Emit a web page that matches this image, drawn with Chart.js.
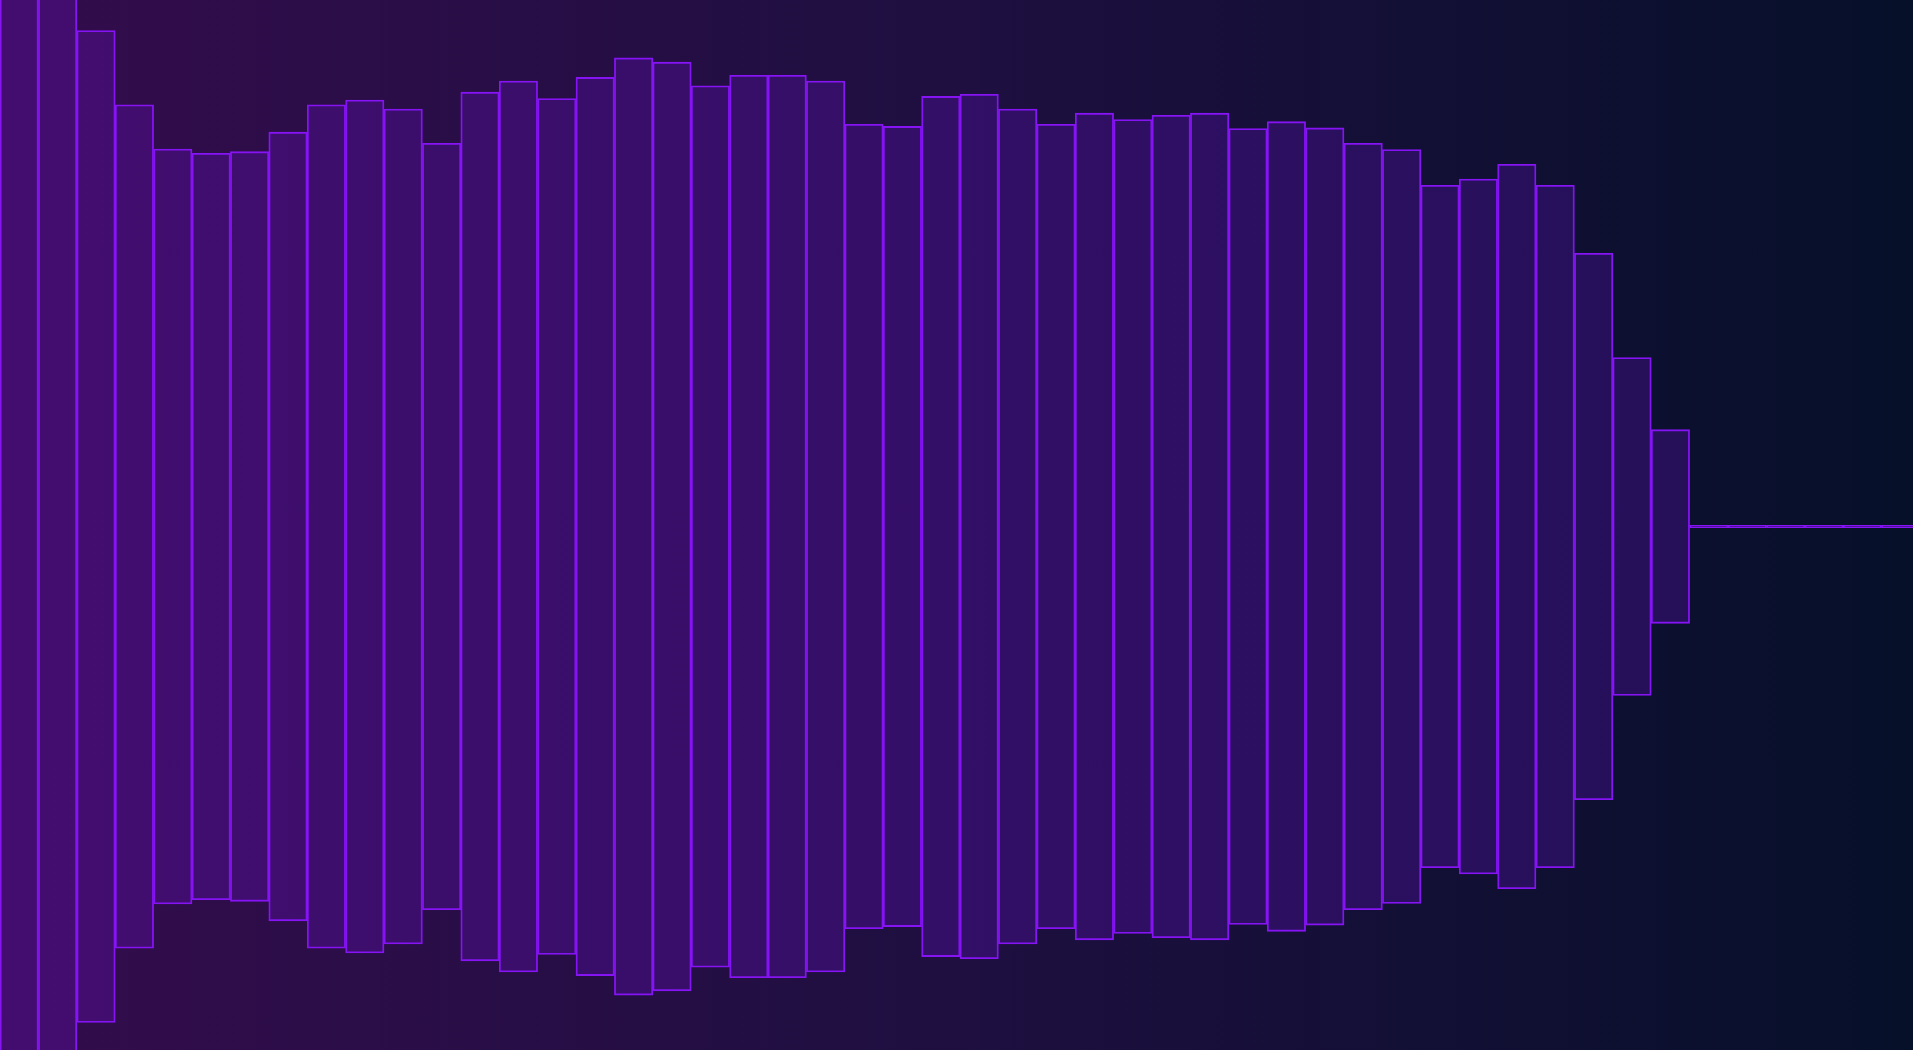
<!DOCTYPE html>
<html>
<head>
<meta charset="utf-8">
<script src="https://cdn.jsdelivr.net/npm/chart.js@4.4.1/dist/chart.umd.min.js"></script>
<style>
  html, body { margin: 0; padding: 0; width: 1913px; height: 1050px; overflow: hidden; }
  body { background: linear-gradient(to right, #330c4c 0%, #1e0f40 50%, #061029 100%); }
  #wrap { position: relative; width: 1920px; height: 1053px; }
</style>
</head>
<body>
<div id="wrap"><canvas id="c"></canvas></div>
<script>
const categories = ['1','2','3','4','5','6','7','8','9','10','11','12','13','14','15','16','17','18','19','20','21','22','23','24','25','26','27','28','29','30','31','32','33','34','35','36','37','38','39','40','41','42','43','44','45','46','47','48','49','50'];
const amplitude = [1.08, 1.12, 0.942, 0.801, 0.717, 0.709, 0.712, 0.749, 0.801, 0.810,
  0.793, 0.728, 0.825, 0.846, 0.813, 0.853, 0.890, 0.882, 0.837, 0.857,
  0.857, 0.846, 0.764, 0.760, 0.817, 0.821, 0.793, 0.764, 0.785, 0.773,
  0.781, 0.785, 0.756, 0.769, 0.757, 0.728, 0.716, 0.648, 0.660, 0.688,
  0.648, 0.519, 0.321, 0.184, 0.002, 0.002, 0.002, 0.002, 0.002, 0.002];

const bars = amplitude.map(a => [-a, a]);

new Chart(document.getElementById('c'), {
  type: 'bar',
  data: {
    labels: categories,
    datasets: [{
      data: bars,
      backgroundColor: 'rgba(128,16,240,0.22)',
      borderColor: '#8614f4',
      borderWidth: 1.2,
      borderSkipped: false,
      barPercentage: 1,
      categoryPercentage: 1
    }]
  },
  options: {
    responsive: true,
    maintainAspectRatio: false,
    animation: false,
    layout: { padding: 0 },
    plugins: { legend: { display: false }, tooltip: { enabled: false } },
    scales: {
      x: { display: false, offset: true, grid: { display: false } },
      y: { display: false, min: -1, max: 1, grid: { display: false } }
    }
  }
});
</script>
</body>
</html>
